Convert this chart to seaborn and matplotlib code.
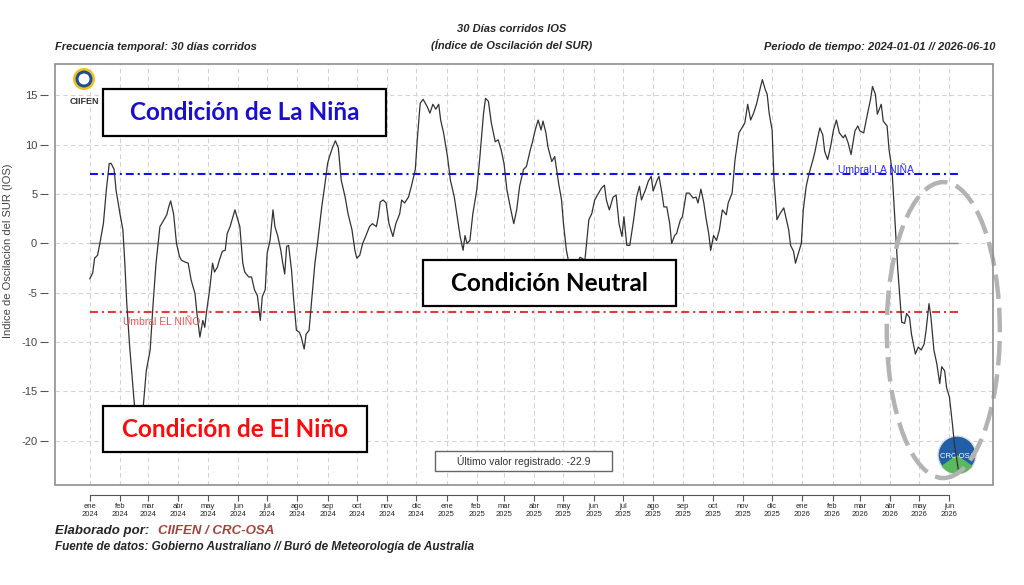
import pandas as pd
import matplotlib.pyplot as plt
import matplotlib.patches as mpatches
import matplotlib.dates as mdates
import seaborn as sns

# IOS 30 dias corridos: dias desde 2024-01-01 y valor
dias = [0, 3, 5, 8, 10, 14, 17, 20, 22, 25, 27, 31, 34, 36, 38, 41, 44, 46, 50, 55,
        58, 62, 65, 68, 72, 75, 79, 81, 83, 86, 89, 92, 94, 98, 101, 104, 108, 110, 113, 116,
        118, 120, 123, 126, 128, 131, 133, 136, 139, 141, 144, 146, 149, 151, 154, 157, 159, 163, 166, 169,
        172, 175, 177, 180, 182, 185, 188, 190, 193, 196, 198, 200, 202, 204, 207, 209, 212, 215, 217, 220,
        222, 225, 228, 231, 234, 238, 241, 244, 246, 249, 252, 255, 258, 262, 265, 269, 272, 274, 277, 280,
        283, 287, 290, 294, 296, 298, 301, 304, 307, 311, 314, 318, 320, 323, 327, 330, 334, 336, 339, 342,
        346, 349, 352, 355, 358, 360, 363, 367, 370, 374, 377, 380, 383, 385, 387, 390, 393, 397, 400, 404,
        406, 409, 412, 416, 419, 422, 425, 428, 432, 435, 438, 441, 445, 448, 452, 454, 457, 460, 463, 465,
        468, 470, 474, 477, 481, 484, 486, 489, 491, 496, 500, 503, 508, 512, 515, 518, 522, 525, 528, 530,
        533, 537, 540, 543, 546, 548, 551, 554, 558, 561, 564, 566, 570, 573, 576, 578, 582, 584, 587, 589,
        592, 595, 597, 600, 602, 606, 608, 612, 615, 619, 622, 624, 627, 630, 632, 635, 637, 640, 643, 646,
        649, 653, 655, 659, 662, 666, 669, 672, 675, 678, 681, 684, 688, 690, 693, 695, 697, 700, 702, 705,
        708, 712, 714, 717, 719, 722, 724, 727, 730, 732, 735, 738, 742, 744, 747, 749, 752, 754, 757, 760,
        763, 766, 769, 773, 775, 778, 781, 785, 788, 790, 794, 797, 801, 803, 806, 808, 812, 814, 818, 820,
        823, 825, 827, 829, 831, 833, 836, 838, 841, 843, 847, 850, 853, 856, 858, 861, 863, 866, 869, 872,
        874, 877, 879, 882, 885, 887, 891]
ios = [-3.6, -3.0, -1.5, -1.2, -0.2, 2.0, 5.4, 8.1, 8.1, 7.5, 5.4, 3.0, 1.4, -2.0, -6.1, -10.5, -14.2, -16.6, -17.5, -16.4,
       -12.9, -10.8, -6.1, -2.0, 1.7, 2.2, 2.9, 3.7, 4.3, 3.0, 0.0, -1.3, -1.7, -1.9, -2.0, -3.7, -5.1, -7.1, -9.5, -7.8,
       -8.5, -6.8, -4.7, -2.0, -2.9, -2.4, -1.7, -0.8, -0.7, 1.0, 1.7, 2.4, 3.4, 2.7, 1.7, -2.0, -2.9, -3.4, -3.4, -4.7,
       -5.3, -7.8, -5.4, -4.7, -1.0, 0.3, 3.4, 1.7, 0.7, -0.7, -2.0, -3.1, -0.3, -0.2, -2.7, -5.4, -8.8, -9.0, -9.5, -10.7,
       -9.2, -8.8, -5.4, -2.0, 0.3, 3.7, 5.8, 8.1, 8.8, 9.7, 10.4, 9.7, 6.4, 4.7, 3.0, 1.4, -0.7, -1.5, -1.2, 0.0,
       0.7, 1.7, 2.0, 1.7, 2.7, 4.2, 4.4, 4.1, 2.0, 0.7, 2.0, 3.0, 4.4, 4.1, 4.7, 5.8, 7.5, 10.5, 14.2, 14.6,
       13.9, 13.2, 14.1, 13.6, 14.1, 12.5, 11.2, 8.8, 6.4, 4.7, 2.7, 0.7, -0.7, 0.8, 0.0, 0.3, 3.0, 5.4, 8.5, 13.2,
       14.7, 14.4, 12.2, 10.3, 10.5, 9.5, 8.1, 5.4, 3.4, 2.0, 3.4, 5.8, 7.5, 7.8, 9.5, 10.2, 11.5, 12.5, 11.5, 12.4,
       11.2, 9.8, 8.3, 8.8, 6.1, 4.4, 2.0, -0.7, -1.7, -1.9, -2.0, -1.4, -1.7, 2.4, 3.0, 4.4, 5.1, 5.6, 5.9, 4.4,
       3.4, 4.7, 4.9, 2.0, 0.7, 2.7, -0.2, -0.2, 2.4, 4.7, 5.8, 4.4, 5.4, 6.3, 6.8, 5.3, 6.4, 6.8, 5.1, 3.7,
       3.7, 2.0, 0.0, 0.8, 1.0, 2.4, 2.7, 5.1, 5.1, 4.6, 4.7, 4.1, 5.5, 4.1, 2.7, 1.0, -0.7, 0.8, 0.3, 1.4,
       3.4, 2.9, 4.1, 5.1, 8.5, 11.2, 11.7, 12.2, 14.1, 12.5, 13.2, 14.1, 15.8, 16.6, 15.6, 15.1, 13.2, 11.5, 6.4, 2.4,
       3.0, 3.6, 2.7, 1.4, -0.2, -0.8, -2.0, -1.0, 0.0, 3.4, 5.8, 7.1, 8.5, 9.3, 10.8, 11.7, 11.0, 9.3, 8.5, 9.8,
       11.5, 12.5, 11.2, 10.7, 11.0, 10.2, 9.0, 11.4, 11.9, 11.4, 11.2, 12.7, 14.6, 15.9, 15.1, 13.1, 14.1, 12.4, 11.9, 9.5,
       7.5, 4.1, 0.7, -2.7, -5.4, -8.0, -8.1, -7.1, -7.5, -9.2, -11.2, -10.5, -10.8, -10.2, -8.8, -6.1, -7.5, -10.8, -12.2, -14.2,
       -12.5, -12.9, -14.6, -15.6, -18.3, -20.3, -22.9]

fecha_inicio = '2024-01-01'
fecha_fin = '2026-06-10'
meses_es = ['ene', 'feb', 'mar', 'abr', 'may', 'jun', 'jul', 'ago', 'sep', 'oct', 'nov', 'dic']
umbral_nina = 7
umbral_nino = -7

df = pd.DataFrame({'Fecha': pd.Timestamp(fecha_inicio) + pd.to_timedelta(dias, unit='D'),
                   'IOS': ios})

sns.set_style('white')
plt.rcParams['font.family'] = ['Liberation Sans', 'DejaVu Sans']
plt.rcParams['axes.unicode_minus'] = False

fig = plt.figure(figsize=(10.24, 5.85), dpi=100)
ax = fig.add_axes([55 / 1024, 100 / 585, 938 / 1024, 421 / 585])

sns.lineplot(data=df, x='Fecha', y='IOS', ax=ax, color='#333333', lw=0.9, zorder=5)

t0, t1 = df['Fecha'].min(), df['Fecha'].max()
pad_t = (t1 - t0) * 0.04
ax.set_xlim(t0 - pad_t, t1 + pad_t)
y0, y1 = df['IOS'].min(), df['IOS'].max()
pad_y = (y1 - y0) * 0.04
ax.set_ylim(y0 - pad_y, y1 + pad_y)

# lineas de referencia
ax.hlines(0, t0, t1, color='#8c8c8c', lw=1, zorder=3)
ax.hlines(umbral_nina, t0, t1, color='#1010f0', lw=1.5, linestyles=(0, (3.8, 1.9, 1, 1.9)), zorder=4)
ax.hlines(umbral_nino, t0, t1, color='#e03a3a', lw=1.5, linestyles=(0, (3.8, 1.9, 1, 1.9)), zorder=4)
ax.text(0.835, umbral_nina + 0.45, 'Umbral LA NIÑA', color='#2a2aff', fontsize=7.5,
        va='center', transform=ax.get_yaxis_transform(), zorder=6)
ax.text(0.0725, umbral_nino - 1.0, 'Umbral EL NIÑO', color='#ee5555', fontsize=7.5,
        va='center', transform=ax.get_yaxis_transform(), zorder=6)

# ejes
meses = pd.date_range(fecha_inicio, fecha_fin, freq='MS')
ax.set_xticks(meses)
ax.set_xticklabels([f'{meses_es[m.month - 1]}\n{m.year}' for m in meses], linespacing=1.1)
ax.set_yticks(range(-20, 16, 5))
ax.tick_params(axis='x', bottom=True, length=4, width=0.8, color='#555555', labelsize=5.5, pad=2)
ax.tick_params(axis='y', left=True, length=5.8, width=0.8, color='#555555', labelcolor='#444444',
               labelsize=8, pad=2)
ax.grid(True, ls=(0, (4, 3)), color='#d4d4d4', lw=0.8)
ax.set_xlabel('')
ax.set_ylabel('')

for s in ['top', 'right', 'left']:
    ax.spines[s].set_visible(False)
ax.spines['left'].set_position(('outward', 5))
ax.spines['bottom'].set_position(('outward', 7))
ax.spines['bottom'].set_bounds(mdates.date2num(meses[0]), mdates.date2num(meses[-1]))
ax.spines['bottom'].set_color('#555555')
ax.spines['bottom'].set_linewidth(0.8)
ax.add_patch(mpatches.Rectangle((0, 0), 1, 1, transform=ax.transAxes, fill=False,
                                edgecolor='#8f8f8f', lw=1.2, clip_on=False, zorder=10))

# recuadros de condicion
cajas = [((0.0512, 0.829), 0.3017, 0.1116, 'Condición de La Niña', '#1a0fcf'),
         ((0.3923, 0.4252), 0.2697, 0.1092, 'Condición Neutral', 'black'),
         ((0.0512, 0.0784), 0.2814, 0.1092, 'Condición de El Niño', '#ff0a0a')]
for (x0, yb), w, h, txt, col in cajas:
    ax.add_patch(mpatches.Rectangle((x0, yb), w, h, transform=ax.transAxes, facecolor='white',
                                    edgecolor='black', lw=1.6, zorder=7))
    ax.text(x0 + w / 2, yb + h / 2, txt, transform=ax.transAxes, ha='center', va='center',
            color=col, fontsize=17.5, fontweight='bold', family=['Lato', 'DejaVu Sans'], zorder=8)

ax.add_patch(mpatches.Rectangle((0.405, 0.0333), 0.189, 0.0475, transform=ax.transAxes,
                                facecolor='white', edgecolor='#666666', lw=1, zorder=7))
ax.text(0.4995, 0.057, f'Último valor registrado: {ios[-1]:.1f}', transform=ax.transAxes,
        ha='center', va='center', fontsize=7.5, color='#333333', zorder=8)

# elipse de resalte
ax.add_patch(mpatches.Ellipse((0.947, 0.368), 0.1205, 0.703, transform=ax.transAxes, fill=False,
                              edgecolor='#b3b3b3', lw=3.2, ls=(0, (5.5, 2)), clip_on=False, zorder=6))

# logos aproximados
tr = fig.dpi_scale_trans
for r, c in [(0.11, '#f0c020'), (0.085, '#1c4f91'), (0.055, 'white')]:
    ax.add_patch(mpatches.Circle((0.84, 5.06), r, transform=tr, facecolor=c, edgecolor='none',
                                 clip_on=False, zorder=4))
fig.text(84 / 1024, 1 - 101 / 585, 'CIIFEN', ha='center', va='center', fontsize=6.5,
         fontweight='bold', color='#333333')
ax.add_patch(mpatches.Circle((9.57, 1.30), 0.19, transform=tr, facecolor='#2160a8', edgecolor='#dddddd',
                             lw=1, clip_on=False, zorder=4))
ax.add_patch(mpatches.Wedge((9.57, 1.30), 0.19, 215, 325, transform=tr, facecolor='#5cb85c',
                            edgecolor='none', clip_on=False, zorder=4))
ax.text(9.57, 1.29, 'CRC OSA', transform=tr, ha='center', va='center', fontsize=5.5,
        color='white', zorder=4, clip_on=False)

# textos de cabecera y pie
hdr = dict(fontsize=8, fontweight='bold', style='italic')
fig.text(512 / 1024, 1 - 29 / 585, '30 Días corridos IOS', ha='center', va='center', **hdr)
fig.text(512 / 1024, 1 - 45 / 585, '(Índice de Oscilación del SUR)', ha='center', va='center', **hdr)
fig.text(55 / 1024, 1 - 47 / 585, 'Frecuencia temporal: 30 días corridos', ha='left', va='center', **hdr)
fig.text(995 / 1024, 1 - 47 / 585, f'Periodo de tiempo: {fecha_inicio} // {fecha_fin}',
         ha='right', va='center', **hdr)
fig.text(8 / 1024, 1 - 251 / 585, 'Indice de Oscilación del SUR (IOS)', rotation=90,
         ha='center', va='center', fontsize=8, color='#444444')

fig.text(55 / 1024, 1 - 531 / 585, 'Elaborado por:', ha='left', va='center',
         fontsize=9.5, fontweight='bold', style='italic')
fig.text(158 / 1024, 1 - 531 / 585, 'CIIFEN / CRC-OSA', ha='left', va='center',
         fontsize=9.5, fontweight='bold', style='italic', color='#a3443c')
fig.text(55 / 1024, 1 - 547 / 585, 'Fuente de datos: Gobierno Australiano // Buró de Meteorología de Australia',
         ha='left', va='center', fontsize=8.5, fontweight='bold', style='italic')

fig.savefig('out.png', dpi=100)
